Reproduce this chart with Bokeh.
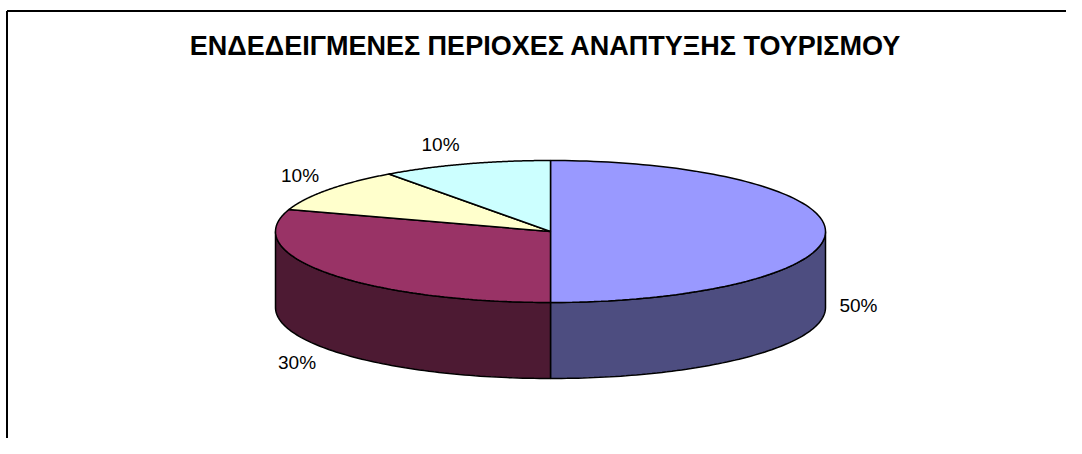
import numpy as np
from bokeh.plotting import figure
from bokeh.models import Range1d
from bokeh.core.properties import value
from bokeh.embed import file_html
from bokeh.resources import INLINE

# ---- data ----
title_text = "ΕΝΔΕΔΕΙΓΜΕΝΕΣ ΠΕΡΙΟΧΕΣ ΑΝΑΠΤΥΞΗΣ ΤΟΥΡΙΣΜΟΥ"
values = [50, 30, 10, 10]
labels = ["50%", "30%", "10%", "10%"]

# ---- styles / geometry ----
top_colors = ["#9999FF", "#993366", "#FFFFCC", "#CCFFFF"]
side_colors = ["#4D4D80", "#4D1A33", "#80806A", "#6A8080"]
label_offsets = [(33, 74), (-31, 89), (-28, -14), (-25, -19)]
cx, cy, rx, ry, depth = 550.0, 231.0, 275.0, 71.0, 76.0

W, H = 1066, 438
p = figure(width=W, height=H, output_backend="svg", toolbar_location=None,
           x_range=Range1d(0, W), y_range=Range1d(H, 0),
           min_border=0)
p.axis.visible = False
p.grid.visible = False
p.outline_line_color = None
p.background_fill_color = "white"
p.border_fill_color = "white"

def pt(theta_deg, dy=0.0):
    t = np.radians(theta_deg)
    return cx + rx * np.sin(t), cy - ry * np.cos(t) + dy

total = float(sum(values))
bounds = np.concatenate([[0.0], np.cumsum(values) / total * 360.0])

# side walls (front half only: theta in [90, 270])
sxs, sys_, scol = [], [], []
for i in range(len(values)):
    a0, a1 = bounds[i], bounds[i + 1]
    s, e = max(a0, 90.0), min(a1, 270.0)
    if e > s:
        th = np.linspace(s, e, 80)
        tx, ty = pt(th)
        bx, by = pt(th[::-1], depth)
        sxs.append(list(tx) + list(bx))
        sys_.append(list(ty) + list(by))
        scol.append(side_colors[i])
p.patches(sxs, sys_, fill_color=scol, line_color="black", line_width=1.5)

# top faces
txs, tys = [], []
for i in range(len(values)):
    a0, a1 = bounds[i], bounds[i + 1]
    th = np.linspace(a0, a1, 120)
    x, y = pt(th)
    txs.append([cx] + list(x))
    tys.append([cy] + list(y))
p.patches(txs, tys, fill_color=top_colors, line_color="black", line_width=1.5)

# labels
lx, ly = [], []
for i in range(len(values)):
    mid = (bounds[i] + bounds[i + 1]) / 2.0
    x, y = pt(mid)
    lx.append(x + label_offsets[i][0])
    ly.append(y + label_offsets[i][1])
p.text(lx, ly, text=labels, text_font=value("Liberation Sans"),
       text_font_size="19px", text_align="center", text_baseline="middle",
       text_color="black")

# title
p.text([545], [45], text=[title_text], text_font=value("Liberation Sans"),
       text_font_size="27px", text_font_style="bold", text_align="center",
       text_baseline="middle", text_color="black")

# chart frame (top and left edges visible)
p.line([6.5, W], [10.5, 10.5], line_color="black", line_width=2)
p.line([6.5, 6.5], [10.5, H], line_color="black", line_width=2)

open("out.html", "w").write(file_html(p, INLINE))
